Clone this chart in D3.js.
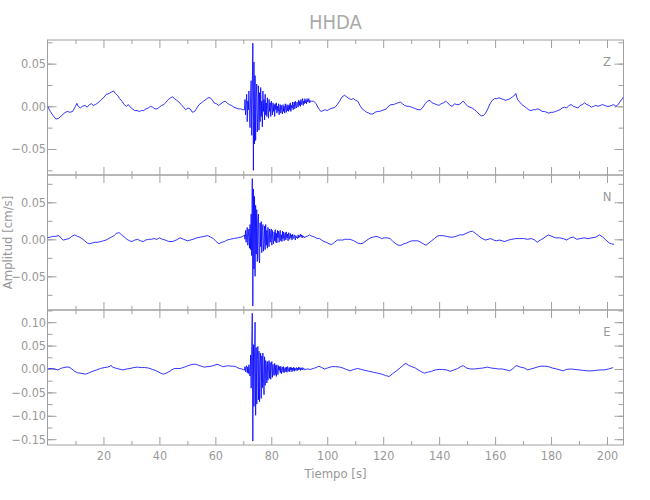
<!DOCTYPE html>
<html><head><meta charset="utf-8">
<script src="https://cdn.jsdelivr.net/npm/d3@7"></script>
<style>body{margin:0;background:#fff} text{font-family:"Liberation Sans Narrow","DejaVu Sans Condensed","Liberation Sans",sans-serif;fill:#999}</style>
</head><body><svg id="c" width="650" height="500"></svg>
<script>
const chartTitle = "HHDA";
const channelNames = ["Z", "N", "E"];
const xLabel = "Tiempo  [s]";
const yLabel = "Amplitud  [cm/s]";
const xMajorTicks = [20, 40, 60, 80, 100, 120, 140, 160, 180, 200];
const xMinorTicks = [10, 30, 50, 70, 90, 110, 130, 150, 170, 190];
const zYTicks = [-0.05, 0, 0.05];
const nYTicks = [-0.05, 0, 0.05];
const eYTicks = [-0.15, -0.10, -0.05, 0, 0.05, 0.10];
const burstStart = 70.4, burstStep = 0.2;

// Z component (quiet parts)
const zTime = [0,1,2,3,4,5,6,7,8,9,10,10.5,11,11.7,12.5,13.4,14.2,15,15.7,16.4,17.1,18,19,20,21,22,23,23.6,24.3,25,25.8,26.6,27.4,28.2,28.9,29.6,30.4,31.2,32,32.8,33.6,34.4,35.2,36,36.8,37.6,38.4,39.2,40,40.8,41.6,42.4,43.2,44,44.7,45.4,46.2,47,47.8,48.6,49.4,50.2,51,51.8,52.6,53.4,54.2,55,55.8,56.6,57.4,58.1,58.8,59.6,60.4,61.2,62,62.8,63.5,64.2,65,65.8,66.6,67.4,68.2,69,69.8,
 94.4,95.2,96,96.8,97.7,98.5,99.3,100,101,102,102.8,103.6,104.4,105.3,106.2,107,107.8,108.6,109.4,110.2,110.9,111.7,112.5,113.3,114.1,114.8,115.5,116.3,117.1,117.9,118.7,119.5,120.3,121.1,121.9,122.8,123.6,124.4,125.2,126.1,126.9,127.7,128.5,129.3,130.1,130.9,131.7,132.5,133.4,134.2,135,135.8,136.7,137.5,138.3,139.1,139.9,140.7,141.5,142.3,143.1,143.9,144.7,145.5,146.3,147.1,147.9,148.6,149.4,150.2,151,151.8,152.6,153.4,154.2,155,155.8,156.6,157.4,158.2,159,159.8,160.6,161.4,162.2,163,163.8,164.6,165.4,166.2,167,167.4,168,168.8,169.6,170.4,171.2,172,172.8,173.6,174.4,175.2,176,176.8,177.6,178.4,179.2,180,180.8,181.6,182.4,183.2,184,184.8,185.6,186.4,187.2,188,188.8,189.6,190.4,191.2,192,192.8,193.6,194.4,195.2,196,196.8,197.6,198.4,199.2,200,200.8,201.6,202.4,203.2,204,204.8,205.5,205.9];
const zAmp = [0,-0.006,-0.011,-0.015,-0.014,-0.011,-0.008,-0.006,-0.007,-0.006,0,0.0035,0,-0.002,0,0.001,-0.001,0.002,0.003,0.001,0.002,0.004,0.007,0.010,0.014,0.015,0.017,0.018,0.015,0.013,0.009,0.006,0.002,0,0.002,-0.001,-0.003,-0.005,-0.005,-0.006,-0.005,-0.005,-0.003,-0.002,0,-0.001,-0.003,-0.003,-0.001,0.001,0.002,0.005,0.008,0.010,0.011,0.009,0.007,0.005,0.002,-0.001,-0.004,-0.002,-0.003,-0.007,-0.006,-0.002,0.002,0.004,0.006,0.008,0.010,0.010,0.008,0.004,0.003,0.001,0.003,0.005,0.006,0.004,0.002,0.001,-0.001,-0.002,-0.003,-0.003,-0.004,
 0.006,0.006,0.003,-0.002,-0.006,-0.005,-0.004,-0.005,-0.003,-0.002,-0.001,0.002,0.006,0.011,0.013,0.011,0.009,0.008,0.009,0.007,0.006,0.001,-0.003,-0.005,-0.007,-0.008,-0.009,-0.009,-0.007,-0.006,-0.006,-0.005,-0.004,-0.003,0,0.002,0.002,0.003,0.004,0.005,0.003,0.001,0,0,-0.001,-0.002,-0.003,-0.004,-0.004,-0.001,0.003,0.006,0.007,0.004,0.003,0.002,0.001,0.003,0.004,0.006,0.004,0.001,0,0.003,0.002,0.002,0.004,0.006,0.003,0,-0.001,-0.002,-0.004,-0.006,-0.009,-0.011,-0.011,-0.008,-0.003,0.003,0.007,0.009,0.009,0.010,0.009,0.008,0.007,0.008,0.009,0.011,0.013,0.015,0.008,0.005,0.002,0,-0.002,-0.004,-0.005,-0.004,-0.004,-0.003,-0.004,-0.006,-0.006,-0.007,-0.008,-0.007,-0.007,-0.006,-0.005,-0.004,-0.002,-0.001,-0.002,0.001,0.002,0,-0.001,-0.002,0.001,0.002,0.004,0.002,0.001,-0.001,0,0.001,0,0.001,0.002,0.001,0,0,0.001,0.002,0,0.002,0.006,0.009,0.011];
const zBurst = [-0.004,0.008,-0.010,0.002,0.014,-0.018,0.006,-0.004,0.018,-0.012,
 -0.025,0.012,0.030,-0.034,0.020,0.074,-0.075,0.052,-0.044,0.036,
 -0.040,0.012,0.026,-0.030,-0.008,0.024,-0.028,0.016,-0.018,0.022,
 -0.012,0.006,-0.024,0.018,-0.006,0.008,-0.016,0.014,-0.010,0.004,
 -0.012,0.010,-0.004,-0.014,0.008,-0.006,0.004,-0.012,0.006,-0.002,
 -0.010,0.004,-0.006,0.002,-0.012,0.003,-0.004,0.004,-0.008,0.000,
 -0.006,0.003,-0.010,-0.002,0.002,-0.008,0.001,-0.005,-0.009,0.002,
 -0.006,0.000,-0.008,0.003,-0.004,-0.007,0.002,-0.005,0.001,-0.006,
 0.002,-0.004,0.004,-0.006,0.001,-0.002,0.005,-0.004,0.002,0.005,
 -0.003,0.006,0.000,-0.002,0.005,0.002,-0.001,0.007,0.001,0.006,
 0.000,0.008,0.002,0.004,0.009,0.001,0.006,0.003,0.009,0.004,
 0.007,0.003,0.009,0.005,0.006,0.009,0.004,0.007,0.005];

// N component
const nTime = [0,1,1.8,2.8,4.1,5,5.7,6.7,7.7,8.7,9.7,10.7,11.5,12.3,13.3,14.2,15,16,17,18,19,20,20.9,21.9,22.9,23.8,24.6,25.6,26.5,27.5,28.4,29.3,30.2,31.2,32.2,33.2,34.2,35.1,36.1,37.1,38.1,39.1,40.1,41.1,42.1,43.4,44.7,46,47.4,48.7,50,51,52,53.4,54.7,56,57.3,58.3,59.3,60.3,61.3,62.3,63.3,64.2,65.2,66.5,67.9,69.2,70.2,
 92.8,93.7,94.6,95.5,96.4,97.2,98,98.8,99.6,100.6,101.6,102.6,103.6,104.5,105.5,106.2,107.2,108.2,109.5,110.9,112,112.9,114.2,115.5,116.5,117.4,118.4,119.4,120.4,121.4,122.5,123.5,124.5,125.4,126.4,127.4,128.4,129.4,130.4,131.4,132.4,133.4,134.3,135.3,136.3,137.3,138.3,139.2,140,141.3,142.6,143.9,145,146,147.3,148.5,149.6,150.8,151.9,153,154,155,156.5,157.5,158.5,159.5,160.5,161.5,162.5,163.5,164.8,166,167.4,168.8,170.2,171.6,173,174.2,175,176.2,177.5,179,180.3,181.6,183,184.3,185.6,186.8,188,189.2,190.4,191.8,193.2,194.6,196,197.3,198.5,199.6,200.8,201.6,202.5];
const nAmp = [0.002,0.003,0.004,0.004,0.005,0.001,-0.001,0,0.001,0.004,0.006,0.004,0.003,0.001,-0.002,-0.005,-0.006,-0.005,-0.004,-0.004,-0.003,-0.002,-0.001,0.001,0.003,0.005,0.008,0.009,0.006,0.003,0,-0.002,-0.003,-0.001,0,-0.002,-0.003,-0.001,0,0,0.001,0,0.002,0,-0.001,-0.003,-0.003,-0.001,0.002,0,-0.002,-0.001,0,0.002,0.003,0.004,0.005,0.003,0.001,-0.003,-0.006,-0.004,-0.003,-0.001,0,0.001,0.002,0.003,0.005,
 0.004,0.006,0.004,0.003,0.001,0.001,-0.001,-0.003,-0.004,-0.006,-0.007,-0.004,-0.001,-0.001,-0.001,0,0,0,-0.002,-0.005,-0.006,-0.005,-0.001,0.002,0.003,0.004,0.003,0.001,0.002,0.002,0.001,-0.003,-0.006,-0.008,-0.008,-0.006,-0.005,-0.003,-0.002,-0.002,-0.002,-0.004,-0.006,-0.008,-0.005,-0.002,0.001,0.004,0.005,0.005,0.004,0.003,0.003,0.004,0.006,0.006,0.008,0.010,0.011,0.008,0.005,0.002,-0.001,0,0.001,-0.001,-0.002,-0.001,-0.002,-0.003,-0.001,0,0.001,0.001,0.001,0,0.001,-0.001,-0.004,-0.001,0.002,0.006,0.004,0.002,0.002,0.001,-0.001,0.002,0.003,0,0.001,0.002,0.001,0.002,0.003,0.006,0.003,-0.001,-0.005,-0.006,-0.007];
const nBurst = [0.006,0.000,0.012,-0.004,0.008,0.016,-0.008,0.004,0.014,-0.012,
 0.020,-0.014,0.034,-0.022,0.082,-0.090,0.068,-0.040,0.058,-0.050,
 0.046,-0.020,0.040,-0.030,0.026,0.034,-0.024,-0.032,0.022,-0.010,
 0.024,-0.018,0.012,0.020,-0.016,-0.006,0.018,-0.014,0.020,-0.008,
 0.012,-0.012,0.016,0.002,-0.010,0.014,-0.004,0.010,0.014,-0.008,
 0.012,0.000,-0.006,0.010,-0.002,0.013,-0.004,0.008,-0.005,0.012,
 0.002,0.011,-0.004,0.008,0.012,-0.002,0.006,-0.003,0.011,0.001,
 0.010,-0.002,0.006,0.009,-0.001,0.010,0.002,0.007,-0.002,0.009,
 0.004,0.000,0.008,0.002,0.006,-0.001,0.007,0.003,0.001,0.006,
 0.004,-0.001,0.005,0.002,0.003,0.001,0.006,0.002,0.005,0.003,
 0.007,0.004,0.006,0.002,0.005,0.003,0.004,0.002,0.003];

// E component
const eTime = [0,0.9,1.8,2.7,3.7,4.7,5.7,6.7,7.7,8.7,9.7,10.7,11.7,12.7,13.7,14.6,15.6,16.6,17.6,18.9,20.3,21.5,22.4,22.7,23.2,24.2,25.5,26.9,28.2,29.5,30.8,32.2,33.5,34.8,36.1,37.5,38.5,39.5,40.5,41.4,42.4,43.4,44.4,45.4,46.4,47.4,48.4,49.4,50.7,52,53,54,55,56,57.3,58.6,59.6,60.6,61.6,62.6,63.6,64.6,65.6,66.6,67.6,68.5,69.5,70.2,
 93,94,95,96,97,98,99,100,101.6,103,104.5,105.6,106.8,108.2,109.5,110.8,112.2,113.5,115,116.5,118,119.5,120.8,122.1,123.4,124.7,126,127.3,128.1,129,130.2,131.5,132.8,134,134.7,135.8,137.3,138.6,140,141.2,142.6,144,145.3,146.6,148,148.6,149.8,151.2,152.6,154,155.6,157.2,158.6,160,161.2,162.6,164,165.1,166.3,167.2,167.8,169,170.5,171.6,172.8,174,175,176.4,177.8,179,180.5,182,183.2,184.3,185.5,187,188.6,190,191.5,193,194.6,196,197.5,199,200.6,202.2];
const eAmp = [0,0.001,0.001,0,-0.002,0.001,0.003,0.004,0.004,0,-0.005,-0.008,-0.009,-0.010,-0.011,-0.009,-0.006,-0.004,-0.002,0.001,0.003,0.004,0.006,0.008,0.004,0.002,0,-0.002,0,0.001,0.003,0.004,0.003,0.003,0.002,-0.001,-0.003,-0.006,-0.009,-0.011,-0.009,-0.006,-0.002,0.001,0.001,0.001,0.003,0.005,0.008,0.010,0.010,0.008,0.006,0.004,0.005,0.006,0.008,0.010,0.008,0.005,0.006,0.007,0.006,0.006,0.004,0.001,0,-0.002,
 0,-0.001,0.001,0.003,0.006,0.003,0,0.002,0.005,0.005,0.004,0.002,-0.001,-0.004,-0.001,0.001,-0.001,-0.003,-0.005,-0.007,-0.009,-0.011,-0.014,-0.016,-0.010,-0.004,0.002,0.009,0.012,0.008,0.005,0.002,-0.003,-0.007,-0.009,-0.007,-0.005,-0.002,-0.001,-0.001,-0.002,-0.005,-0.002,0.001,0.006,0.007,0.002,0,0,0.001,0.002,0.004,0.002,0.001,0,0,-0.002,-0.004,0,0.006,0.007,0.004,0.002,-0.002,0,0.002,0.004,0.006,0.006,0.005,0.002,0,-0.002,-0.004,-0.001,0,-0.001,-0.002,-0.003,-0.004,-0.004,-0.003,-0.002,-0.002,0,0.003];
const eBurst = [-0.002,0.005,-0.006,0.002,0.007,-0.008,0.004,-0.010,0.009,-0.004,
 -0.015,0.030,-0.041,0.048,0.119,-0.154,0.052,-0.080,0.030,0.100,
 -0.099,0.046,-0.075,0.020,0.048,-0.066,0.038,-0.070,0.010,0.034,
 -0.063,0.028,-0.040,0.034,-0.020,-0.055,0.026,-0.035,0.018,0.010,
 -0.030,0.016,-0.024,0.004,0.018,-0.020,0.014,-0.022,0.006,0.016,
 -0.018,0.010,-0.008,-0.014,0.012,-0.012,0.008,-0.016,0.009,-0.004,
 -0.012,0.007,-0.003,0.005,-0.008,0.006,-0.010,0.000,0.004,-0.007,
 0.005,-0.008,0.000,0.003,-0.006,0.004,-0.007,0.005,-0.002,-0.005,
 0.003,-0.006,0.004,-0.002,0.003,-0.006,0.002,-0.003,0.004,-0.005,
 0.002,-0.003,0.000,0.003,-0.004,0.002,-0.002,0.004,-0.001,0.003,
 -0.003,0.002,-0.001,0.003,-0.002,0.001,0.002,-0.002,-0.001];

function buildSeries(times, amps, burst) {
  const pts = times.map((t, i) => [t, amps[i]]);
  burst.forEach((v, i) => pts.push([burstStart + i * burstStep, v]));
  pts.sort((a, b) => a[0] - b[0]);
  return pts;
}

const panels = [
  {name: channelNames[0], data: buildSeries(zTime, zAmp, zBurst), domain: [-0.0805, 0.0777], ticks: zYTicks},
  {name: channelNames[1], data: buildSeries(nTime, nAmp, nBurst), domain: [-0.0955, 0.0869], ticks: nYTicks},
  {name: channelNames[2], data: buildSeries(eTime, eAmp, eBurst), domain: [-0.1624, 0.1260], ticks: eYTicks}
];

const svg = d3.select("#c");
const left = 47.5, right = 623.5, top0 = 40, panelH = 135;
const axisColor = "#a0a0a0";
const x = d3.scaleLinear().domain([0, 205.9]).range([left, right]);
const fmt = d3.format(".2f");

svg.append("text").attr("x", 335.5).attr("y", 29).attr("text-anchor", "middle")
  .style("font-size", "20px").style("fill", "#aaa").text(chartTitle);

panels.forEach((p, i) => {
  const y0 = top0 + i * panelH, y1 = y0 + panelH;
  const y = d3.scaleLinear().domain(p.domain).range([y1, y0]);
  const g = svg.append("g");
  const clipId = "clip" + i;
  svg.append("clipPath").attr("id", clipId).append("rect")
    .attr("x", left).attr("y", y0).attr("width", right - left).attr("height", panelH);

  const step = 0.025;
  const minor = d3.range(Math.ceil(p.domain[0] / step), Math.floor(p.domain[1] / step) + 1).map(k => +(k * step).toFixed(3));
  const addAxis = (axis, tr) => {
    const a = g.append("g").attr("transform", tr).call(axis);
    a.select(".domain").remove();
    a.selectAll("line").attr("stroke", axisColor);
    a.selectAll("text").attr("fill", "#999").style("font-size", "12.5px").attr("font-family", null);
    return a;
  };
  addAxis(d3.axisLeft(y).tickValues(minor).tickSize(-5).tickFormat(""), `translate(${left},0)`);
  addAxis(d3.axisRight(y).tickValues(minor).tickSize(-5).tickFormat(""), `translate(${right},0)`);
  addAxis(d3.axisLeft(y).tickValues(p.ticks).tickSize(-9).tickPadding(1.5).tickFormat(fmt), `translate(${left},0)`);
  addAxis(d3.axisRight(y).tickValues(p.ticks).tickSize(-9).tickFormat(""), `translate(${right},0)`);
  addAxis(d3.axisTop(x).tickValues(xMinorTicks).tickSize(-4).tickFormat(""), `translate(0,${y0})`);
  addAxis(d3.axisTop(x).tickValues(xMajorTicks).tickSize(-8).tickFormat(""), `translate(0,${y0})`);
  addAxis(d3.axisBottom(x).tickValues(xMinorTicks).tickSize(-4).tickFormat(""), `translate(0,${y1})`);
  addAxis(d3.axisBottom(x).tickValues(xMajorTicks).tickSize(-8).tickPadding(6)
      .tickFormat(i === 2 ? d3.format("d") : ""), `translate(0,${y1})`);

  g.append("rect").attr("x", left).attr("y", y0).attr("width", right - left).attr("height", panelH)
    .attr("fill", "none").attr("stroke", axisColor).attr("stroke-width", 1);

  const line = d3.line().x(d => x(d[0])).y(d => y(d[1]));
  svg.append("path").datum(p.data).attr("clip-path", `url(#${clipId})`)
    .attr("d", line).attr("fill", "none").attr("stroke", "#0000ff").attr("stroke-width", 0.8);

  svg.append("text").attr("x", 607).attr("y", y0 + 26).attr("text-anchor", "middle")
    .style("font-size", "13px").text(p.name);
});

svg.append("text").attr("x", 335.5).attr("y", 478).attr("text-anchor", "middle")
  .style("font-size", "13px").text(xLabel);
svg.append("text").attr("transform", "translate(12,242.5) rotate(-90)").attr("text-anchor", "middle")
  .style("font-size", "13px").text(yLabel);
</script></body></html>
